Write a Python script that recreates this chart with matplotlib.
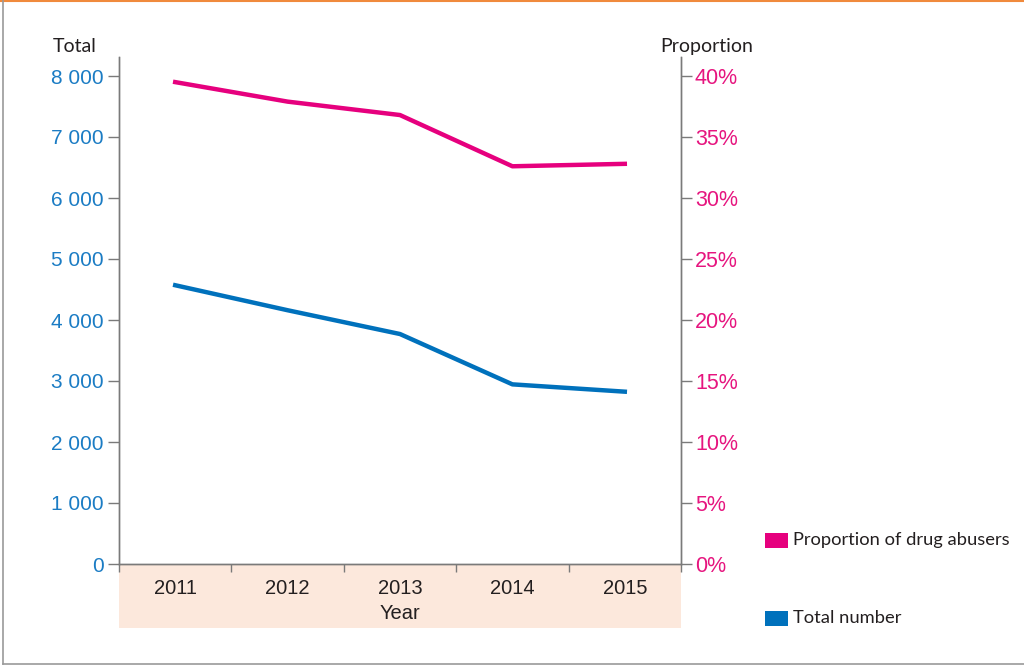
import matplotlib
matplotlib.use("Agg")
import matplotlib.pyplot as plt
from matplotlib.patches import Rectangle
from matplotlib.lines import Line2D
from matplotlib.ticker import FuncFormatter, FixedLocator

years = ["2011", "2012", "2013", "2014", "2015"]
total_number = [4570, 4160, 3770, 2945, 2825]
proportion = [39.5, 37.9, 36.8, 32.6, 32.8]

left_ticks = [0, 1000, 2000, 3000, 4000, 5000, 6000, 7000, 8000]
right_ticks = [0, 5, 10, 15, 20, 25, 30, 35, 40]

BLUE = "#0071BC"
PINK = "#E6007E"
BLUE_TXT = "#1B7CC4"
PINK_TXT = "#E6157F"
GREY = "#7a7a7a"
BAND = "#FCE8DC"
TXT = "#231F20"

W, H = 1024, 666
fig = plt.figure(figsize=(W / 100, H / 100), dpi=100)
L, R, B, T = 119, 681, 564, 57
ax = fig.add_axes([L / W, 1 - B / H, (R - L) / W, (B - T) / H])
ax2 = ax.twinx()

x = list(range(len(years)))
ax.plot(x, total_number, color=BLUE, lw=3.2, solid_joinstyle="round", zorder=3)
ax2.plot(x, proportion, color=PINK, lw=3.2, solid_joinstyle="round", zorder=3)

ax.set_xlim(-0.5, len(years) - 0.5)
ax.set_ylim(0, 8000 * (B - T) / (B - 76))
ax2.set_ylim(0, 40 * (B - T) / (B - 76))

for a in (ax, ax2):
    a.spines["top"].set_visible(False)
    for s in ("left", "right", "bottom"):
        a.spines[s].set_color(GREY)
        a.spines[s].set_linewidth(1.0)
ax.spines["right"].set_visible(True)

ax.set_yticks(left_ticks)
ax.yaxis.set_major_formatter(FuncFormatter(lambda v, p: f"{int(v):,}".replace(",", " ")))
ax.tick_params(axis="y", direction="out", length=8, width=1, color=GREY,
               labelcolor=BLUE_TXT, labelsize=15, pad=3)
ax2.set_yticks(right_ticks)
ax2.yaxis.set_major_formatter(FuncFormatter(lambda v, p: f"{int(v)}%"))
ax2.tick_params(axis="y", direction="out", length=8, width=1, color=GREY,
                labelcolor=PINK_TXT, labelsize=15.5, pad=2)
for lab in ax.get_yticklabels() + ax2.get_yticklabels():
    lab.set_fontfamily("Liberation Sans")

# x ticks: boundaries as major ticks, labels at category centres
ax.xaxis.set_major_locator(FixedLocator([i - 0.5 for i in range(len(years) + 1)]))
ax.xaxis.set_major_formatter(FuncFormatter(lambda v, p: ""))
ax.xaxis.set_minor_locator(FixedLocator(x))
ax.set_xticklabels(years, minor=True)
ax.tick_params(axis="x", which="major", direction="out", length=6, width=1, color=GREY)
ax.tick_params(axis="x", which="minor", length=0, labelsize=14.5, labelcolor=TXT, pad=11)
for lab in ax.get_xticklabels(minor=True):
    lab.set_fontfamily("Liberation Sans")

ax.set_xlabel("Year", fontsize=14.5, color=TXT, family="Liberation Sans", labelpad=4)

# peach band behind x-axis labels
band_h = (628 - B) / (B - T)
ax.add_patch(Rectangle((0, -band_h), 1, band_h, transform=ax.transAxes,
                       facecolor=BAND, edgecolor="none", clip_on=False, zorder=-5))

fig.text(53 / W, 1 - 52 / H, "Total", fontsize=14, color=TXT, family="Lato")
fig.text(660 / W, 1 - 52 / H, "Proportion", fontsize=14, color=TXT, family="Lato")

# legend
legend_items = [("Proportion of drug abusers", PINK, 540.5), ("Total number", BLUE, 618)]
for label, col, yc in legend_items:
    fig.patches.append(Rectangle((765 / W, 1 - (yc + 7.5) / H), 23 / W, 15 / H,
                                 transform=fig.transFigure, facecolor=col,
                                 edgecolor="none"))
    fig.text(793 / W, 1 - yc / H, label, fontsize=13.2, color=TXT, family="Lato",
             va="center")

# frame lines
fig.add_artist(Line2D([0, 1], [1 - 0.5 / H, 1 - 0.5 / H], transform=fig.transFigure,
                      color="#F08A3C", lw=1.5))
fig.add_artist(Line2D([3 / W, 3 / W], [1 - 1 / H, 1 - 664 / H], transform=fig.transFigure,
                      color="#9a9a9a", lw=1.2))
fig.add_artist(Line2D([3 / W, 1], [1 - 664 / H, 1 - 664 / H], transform=fig.transFigure,
                      color="#9a9a9a", lw=1.2))

fig.savefig("out.png", dpi=100)
